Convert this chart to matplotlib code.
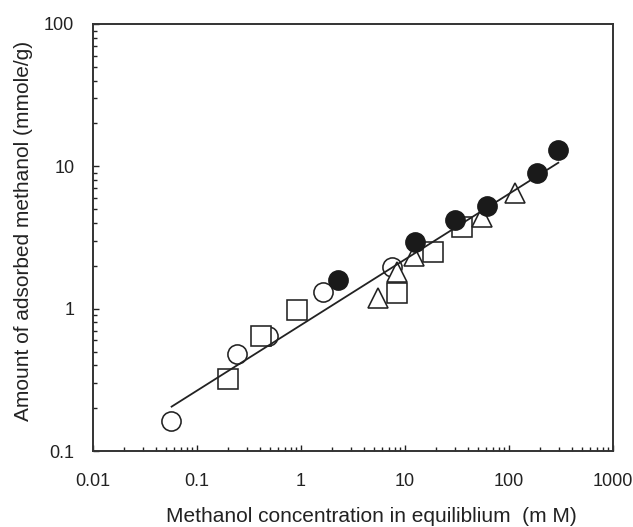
import matplotlib
matplotlib.use("Agg")
import matplotlib.pyplot as plt
from matplotlib.ticker import LogLocator, NullFormatter, FixedLocator, FixedFormatter

plt.rcParams['font.family'] = ['Liberation Sans', 'DejaVu Sans']

# Data
circle_open_x = [0.056, 0.241, 0.485, 1.62, 7.55]
circle_open_y = [0.163, 0.479, 0.643, 1.30, 1.97]

square_x = [0.20, 0.41, 0.91, 8.32, 18.7, 35.1]
square_y = [0.32, 0.643, 0.98, 1.28, 2.52, 3.77]

triangle_x = [5.46, 8.43, 12.2, 54.6, 114.0]
triangle_y = [1.18, 1.82, 2.34, 4.44, 6.47]

circle_filled_x = [2.28, 12.5, 30.3, 61.1, 185.0, 298.0]
circle_filled_y = [1.59, 2.96, 4.20, 5.27, 9.04, 13.0]

fit_x = [0.057, 298.0]
fit_y = [0.205, 10.6]

x_ticks = [0.01, 0.1, 1, 10, 100, 1000]
x_tick_labels = ['0.01', '0.1', '1', '10', '100', '1000']
y_ticks = [0.1, 1, 10, 100]
y_tick_labels = ['0.1', '1', '10', '100']

xlabel = 'Methanol concentration in equiliblium  (m M)'
ylabel = 'Amount of adsorbed methanol (mmole/g)'

fig = plt.figure(figsize=(6.33, 5.27), dpi=100)
ax = fig.add_axes([93/633, 76/527, 520/633, 427/527])

ink = '#222222'
ms = 13.8
mew = 1.15

ax.plot(fit_x, fit_y, color=ink, lw=1.3, zorder=3)
ax.plot(circle_open_x, circle_open_y, 'o', ms=ms, mfc='white', mec=ink, mew=mew, zorder=2, linestyle='none')
ax.plot(square_x, square_y, 's', ms=ms, mfc='white', mec=ink, mew=mew, zorder=2.5, linestyle='none')
ax.plot(triangle_x, triangle_y, '^', ms=ms, mfc='white', mec=ink, mew=mew, zorder=2.7, linestyle='none')
ax.plot(circle_filled_x, circle_filled_y, 'o', ms=ms, mfc='#1a1a1a', mec='#1a1a1a', mew=mew, zorder=4, linestyle='none')

ax.set_xscale('log')
ax.set_yscale('log')
ax.set_xlim(0.01, 1000)
ax.set_ylim(0.1, 100)

ax.xaxis.set_major_locator(FixedLocator(x_ticks))
ax.xaxis.set_major_formatter(FixedFormatter(x_tick_labels))
ax.yaxis.set_major_locator(FixedLocator(y_ticks))
ax.yaxis.set_major_formatter(FixedFormatter(y_tick_labels))
ax.xaxis.set_minor_locator(LogLocator(base=10, subs=range(2, 10)))
ax.yaxis.set_minor_locator(LogLocator(base=10, subs=range(2, 10)))
ax.xaxis.set_minor_formatter(NullFormatter())
ax.yaxis.set_minor_formatter(NullFormatter())

ax.tick_params(which='both', direction='in', top=False, right=False, color=ink, width=1.0, labelsize=13, labelcolor=ink)
ax.tick_params(which='major', length=4.5)
ax.tick_params(which='minor', length=3.2)
ax.tick_params(axis='x', which='major', pad=16)
ax.tick_params(axis='y', which='major', pad=13.5)

for s in ax.spines.values():
    s.set_color('#333333')
    s.set_linewidth(1.4)

fig.text(371/633, (527-522)/527, xlabel, ha='center', va='baseline', fontsize=15, color=ink)
fig.text(24/633, (527-231)/527, ylabel, ha='center', va='center', rotation=90, fontsize=15, color=ink)

fig.savefig('out.png', dpi=100)
